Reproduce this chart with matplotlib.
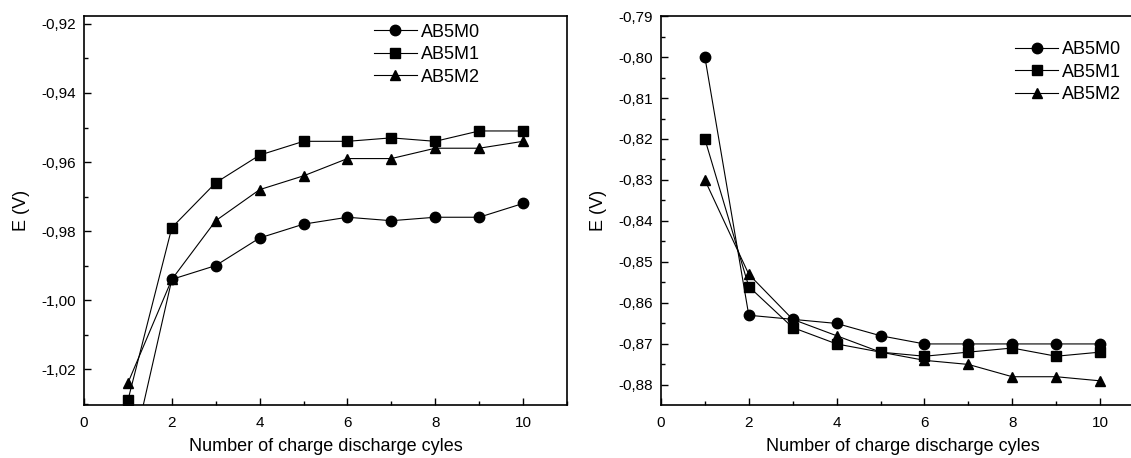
import matplotlib.pyplot as plt
from matplotlib.ticker import MultipleLocator, FuncFormatter

plt.rcParams['font.family'] = ['Liberation Sans', 'DejaVu Sans']

cycles = [1, 2, 3, 4, 5, 6, 7, 8, 9, 10]
labels = ['AB5M0', 'AB5M1', 'AB5M2']
markers = ['o', 's', '^']

# left panel
left_m0 = [-1.050, -0.994, -0.990, -0.982, -0.978, -0.976, -0.977, -0.976, -0.976, -0.972]
left_m1 = [-1.029, -0.979, -0.966, -0.958, -0.954, -0.954, -0.953, -0.954, -0.951, -0.951]
left_m2 = [-1.024, -0.994, -0.977, -0.968, -0.964, -0.959, -0.959, -0.956, -0.956, -0.954]

# right panel
right_m0 = [-0.800, -0.863, -0.864, -0.865, -0.868, -0.870, -0.870, -0.870, -0.870, -0.870]
right_m1 = [-0.820, -0.856, -0.866, -0.870, -0.872, -0.873, -0.872, -0.871, -0.873, -0.872]
right_m2 = [-0.830, -0.853, -0.864, -0.868, -0.872, -0.874, -0.875, -0.878, -0.878, -0.879]

fig = plt.figure(figsize=(11.31, 4.58), dpi=100)
ax1 = fig.add_axes([0.0743, 0.1157, 0.4270, 0.8493])
ax2 = fig.add_axes([0.5844, 0.1157, 0.4271, 0.8493])

comma = FuncFormatter(lambda v, p: '{:.2f}'.format(v).replace('.', ','))


def draw(ax, series, ylim, ymajor, yminor, leg_anchor):
    for vals, lab, mk in zip(series, labels, markers):
        ax.plot(cycles, vals, color='black', lw=0.8, marker=mk, markersize=7.5,
                label=lab)
    ax.set_xlim(0, 11)
    ax.set_ylim(*ylim)
    ax.xaxis.set_major_locator(MultipleLocator(2))
    ax.xaxis.set_minor_locator(MultipleLocator(1))
    ax.yaxis.set_major_locator(MultipleLocator(ymajor))
    ax.yaxis.set_minor_locator(MultipleLocator(yminor))
    ax.yaxis.set_major_formatter(comma)
    ax.tick_params(which='both', direction='in', labelsize=11, top=False, right=False)
    ax.tick_params(which='major', length=5, width=1, pad=6)
    ax.tick_params(axis='x', which='major', pad=8)
    ax.tick_params(which='minor', length=3, width=1)
    for s in ax.spines.values():
        s.set_linewidth(1.2)
    ax.set_xlabel('Number of charge discharge cyles', fontsize=13, labelpad=6)
    ax.set_ylabel('E (V)', fontsize=13, labelpad=8)
    ax.legend(loc='upper left', bbox_to_anchor=leg_anchor, frameon=False,
              fontsize=13, handlelength=2.4, handletextpad=0.2, labelspacing=0.3,
              borderpad=0, borderaxespad=0, markerscale=1.0)


draw(ax1, [left_m0, left_m1, left_m2], (-1.0304, -0.9177), 0.02, 0.01, (0.60, 0.98))
draw(ax2, [right_m0, right_m1, right_m2], (-0.8849, -0.79), 0.01, 0.005, (0.733, 0.935))

fig.savefig('out.png', dpi=100)
